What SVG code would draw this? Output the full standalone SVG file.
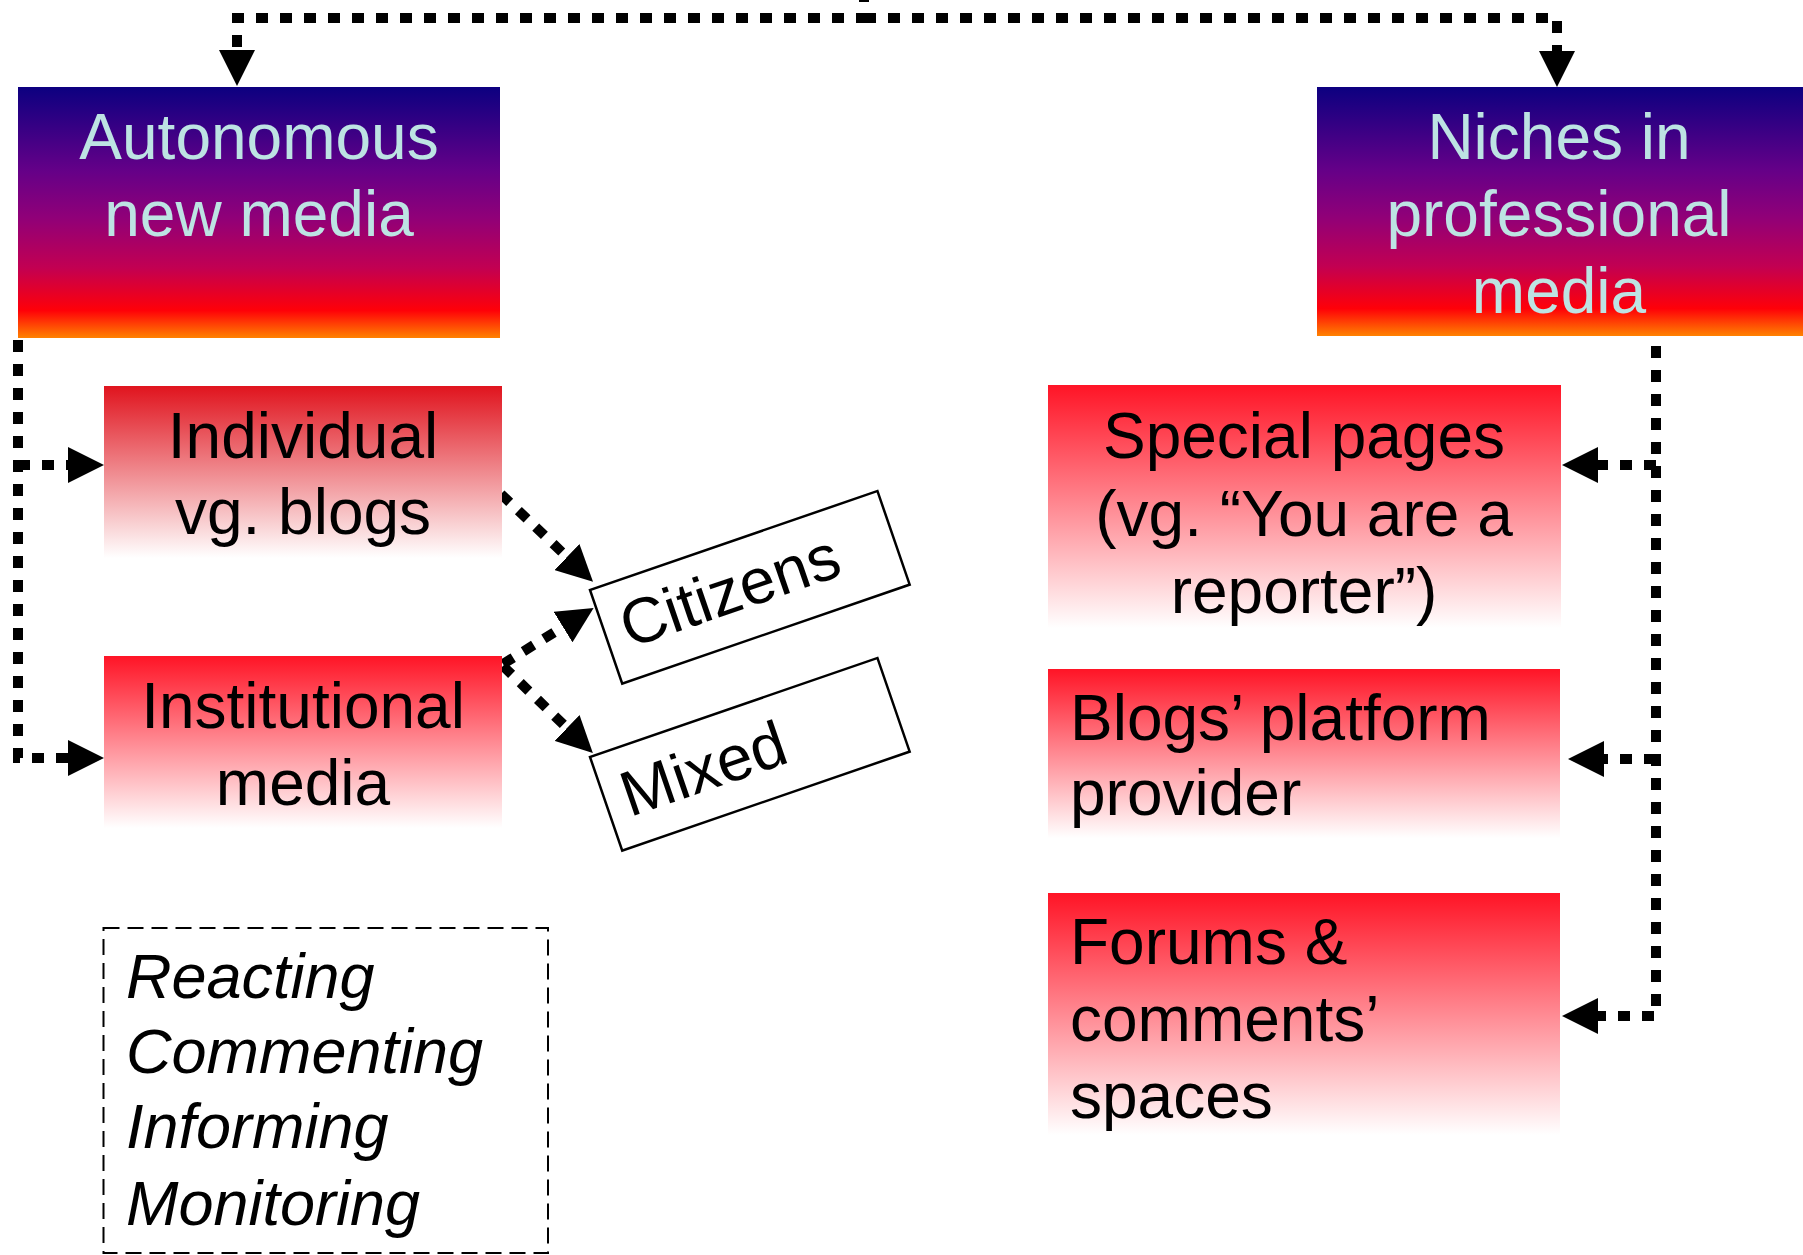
<svg xmlns="http://www.w3.org/2000/svg" width="1803" height="1255" viewBox="0 0 1803 1255">
<style>
.hd{font-family:"Liberation Sans",Arial,sans-serif;font-size:64px;fill:#bde3e3;text-anchor:middle}
.tx{font-family:"Liberation Sans",Arial,sans-serif;font-size:64px;fill:#000}
.c{text-anchor:middle}
.it{font-family:"Liberation Sans",Arial,sans-serif;font-size:63px;font-style:italic;fill:#000}
.dot{fill:none;stroke:#000;stroke-width:10;stroke-dasharray:12 12}
.tag{fill:#fff;stroke:#000;stroke-width:2.5}
</style>
<defs>
<linearGradient id="gHead" x1="0" y1="0" x2="0" y2="1">
<stop offset="0" stop-color="#0c0080"/>
<stop offset="0.33" stop-color="#640088"/>
<stop offset="0.52" stop-color="#900078"/>
<stop offset="0.72" stop-color="#c20052"/>
<stop offset="0.89" stop-color="#ff0008"/>
<stop offset="1" stop-color="#ff8200"/>
</linearGradient>
<linearGradient id="gDark" x1="0" y1="0" x2="0" y2="1">
<stop offset="0" stop-color="#e0141e"/>
<stop offset="1" stop-color="#ffffff"/>
</linearGradient>
<linearGradient id="gRed" x1="0" y1="0" x2="0" y2="1">
<stop offset="0" stop-color="#ff1426"/>
<stop offset="1" stop-color="#ffffff"/>
</linearGradient>
<marker id="ah" viewBox="0 0 36 36" refX="0" refY="18" markerWidth="36" markerHeight="36" markerUnits="userSpaceOnUse" orient="auto">
<path d="M0,0 L36,18 L0,36 z" fill="#000"/>
</marker>
</defs>

<g id="connectors">
<path class="dot" d="M864,-10 V18 H237 V50" marker-end="url(#ah)"/>
<path class="dot" d="M864,18 H1557 V51" marker-end="url(#ah)"/>
<path class="dot" d="M18,340 V758 H68" marker-end="url(#ah)"/>
<path class="dot" d="M18,465 H68" marker-end="url(#ah)"/>
<path class="dot" d="M1656,346 V1016 H1598" marker-end="url(#ah)"/>
<path class="dot" d="M1656,465 H1598" marker-end="url(#ah)"/>
<path class="dot" d="M1656,759 H1604" marker-end="url(#ah)"/>
<path class="dot" d="M501,494 L567,557" marker-end="url(#ah)"/>
<path class="dot" d="M503,664 L563,627" marker-end="url(#ah)"/>
<path class="dot" d="M503,666 L567,728" marker-end="url(#ah)"/>
</g>

<g id="autonomous">
<rect x="18" y="87" width="482" height="251" fill="url(#gHead)"/>
<text class="hd" x="259" y="159">Autonomous</text>
<text class="hd" x="259" y="236">new media</text>
</g>

<g id="niches">
<rect x="1317" y="87" width="486" height="249" fill="url(#gHead)"/>
<text class="hd" x="1559" y="159">Niches in</text>
<text class="hd" x="1559" y="236">professional</text>
<text class="hd" x="1559" y="313">media</text>
</g>

<g id="individual">
<rect x="104" y="386" width="398" height="172" fill="url(#gDark)"/>
<text class="tx c" x="303" y="458">Individual</text>
<text class="tx c" x="303" y="534">vg. blogs</text>
</g>

<g id="institutional">
<rect x="104" y="656" width="398" height="172" fill="url(#gRed)"/>
<text class="tx c" x="303" y="728">Institutional</text>
<text class="tx c" x="303" y="805">media</text>
</g>

<g id="citizens" transform="translate(590,590) rotate(-19)">
<rect class="tag" x="0" y="0" width="304" height="99"/>
<text class="tx" x="18" y="68" font-size="63">Citizens</text>
</g>

<g id="mixed" transform="translate(590,757) rotate(-19)">
<rect class="tag" x="0" y="0" width="304" height="99"/>
<text class="tx" x="18" y="70" font-size="63">Mixed</text>
</g>

<g id="special-pages">
<rect x="1048" y="385" width="513" height="243" fill="url(#gRed)"/>
<text class="tx c" x="1304" y="458">Special pages</text>
<text class="tx c" x="1304" y="536">(vg. “You are a</text>
<text class="tx c" x="1304" y="613">reporter”)</text>
</g>

<g id="blogs-platform">
<rect x="1048" y="669" width="512" height="169" fill="url(#gRed)"/>
<text class="tx" x="1070" y="740">Blogs’ platform</text>
<text class="tx" x="1070" y="815">provider</text>
</g>

<g id="forums">
<rect x="1048" y="893" width="512" height="242" fill="url(#gRed)"/>
<text class="tx" x="1070" y="964">Forums &amp;</text>
<text class="tx" x="1070" y="1041">comments’</text>
<text class="tx" x="1070" y="1118">spaces</text>
</g>

<g id="activities">
<rect x="103.5" y="928" width="444.5" height="325" fill="none" stroke="#000" stroke-width="2" stroke-dasharray="16 8"/>
<text class="it" x="126" y="998">Reacting</text>
<text class="it" x="126" y="1073">Commenting</text>
<text class="it" x="126" y="1148">Informing</text>
<text class="it" x="126" y="1225">Monitoring</text>
</g>
</svg>
